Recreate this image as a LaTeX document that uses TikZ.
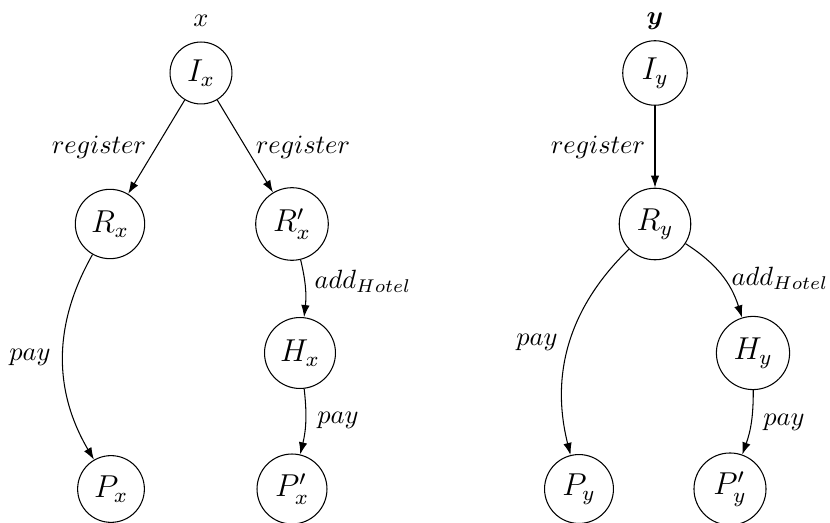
\documentclass[tikz,border=0pt]{standalone}
\usepackage{bm}
\usetikzlibrary{arrows.meta}
\begin{document}
\begin{tikzpicture}[x=0.3788pt,y=-0.3788pt,
  state/.style={circle,draw,inner sep=3.2pt,line width=0.4pt,font=\large},
  lbl/.style={inner sep=0pt},
  conn/.style={-{Latex[length=4.6pt,width=3.2pt]},line width=0.4pt}]
\useasboundingbox (0,0) rectangle (830,523);
% left tree
\node[state] (Ix)  at (201,73)  {$I_x$};
\node[state] (Rx)  at (110,224) {$R_x$};
\node[state] (Rxp) at (292,224) {$R'_x$};
\node[state] (Hx)  at (300,353) {$H_x$};
\node[state] (Px)  at (111,489) {$P_x$};
\node[state] (Pxp) at (292,489) {$P'_x$};
% right tree
\node[state] (Iy)  at (655,73)  {$I_y$};
\node[state] (Ry)  at (655,224) {$R_y$};
\node[state] (Hy)  at (753,353) {$H_y$};
\node[state] (Py)  at (579,489) {$P_y$};
\node[state] (Pyp) at (730,489) {$P'_y$};
% titles
\node[lbl] (tx) at (201,21) {$x$};
\node[lbl] (ty) at (655,21) {$\bm{y}$};
% connectors
\draw[conn] (Ix) -- (Rx);
\draw[conn] (Ix) -- (Rxp);
\draw[conn] (Rx) to[bend right=30] (Px);
\draw[conn] (Rxp) to[bend left=10] (Hx);
\draw[conn] (Hx) to[bend left=10] (Pxp);
\draw[conn] (Iy) -- (Ry);
\draw[conn] (Ry) to[bend right=30] (Py);
\draw[conn] (Ry) to[bend left=20] (Hy);
\draw[conn] (Hy) to[bend left=10] (Pyp);
% labels
\node[lbl] (r1) at (99,147)  {$register$};
\node[lbl] (r2) at (303,147) {$register$};
\node[lbl] (r3) at (598,147) {$register$};
\node[lbl] (a1) at (363,281) {$add_{Hotel}$};
\node[lbl] (a2) at (780,278) {$add_{Hotel}$};
\node[lbl] (p1) at (30,357)  {$pay$};
\node[lbl] (p2) at (338,420) {$pay$};
\node[lbl] (p3) at (537,342) {$pay$};
\node[lbl] (p4) at (784,422) {$pay$};
\end{tikzpicture}
\end{document}
